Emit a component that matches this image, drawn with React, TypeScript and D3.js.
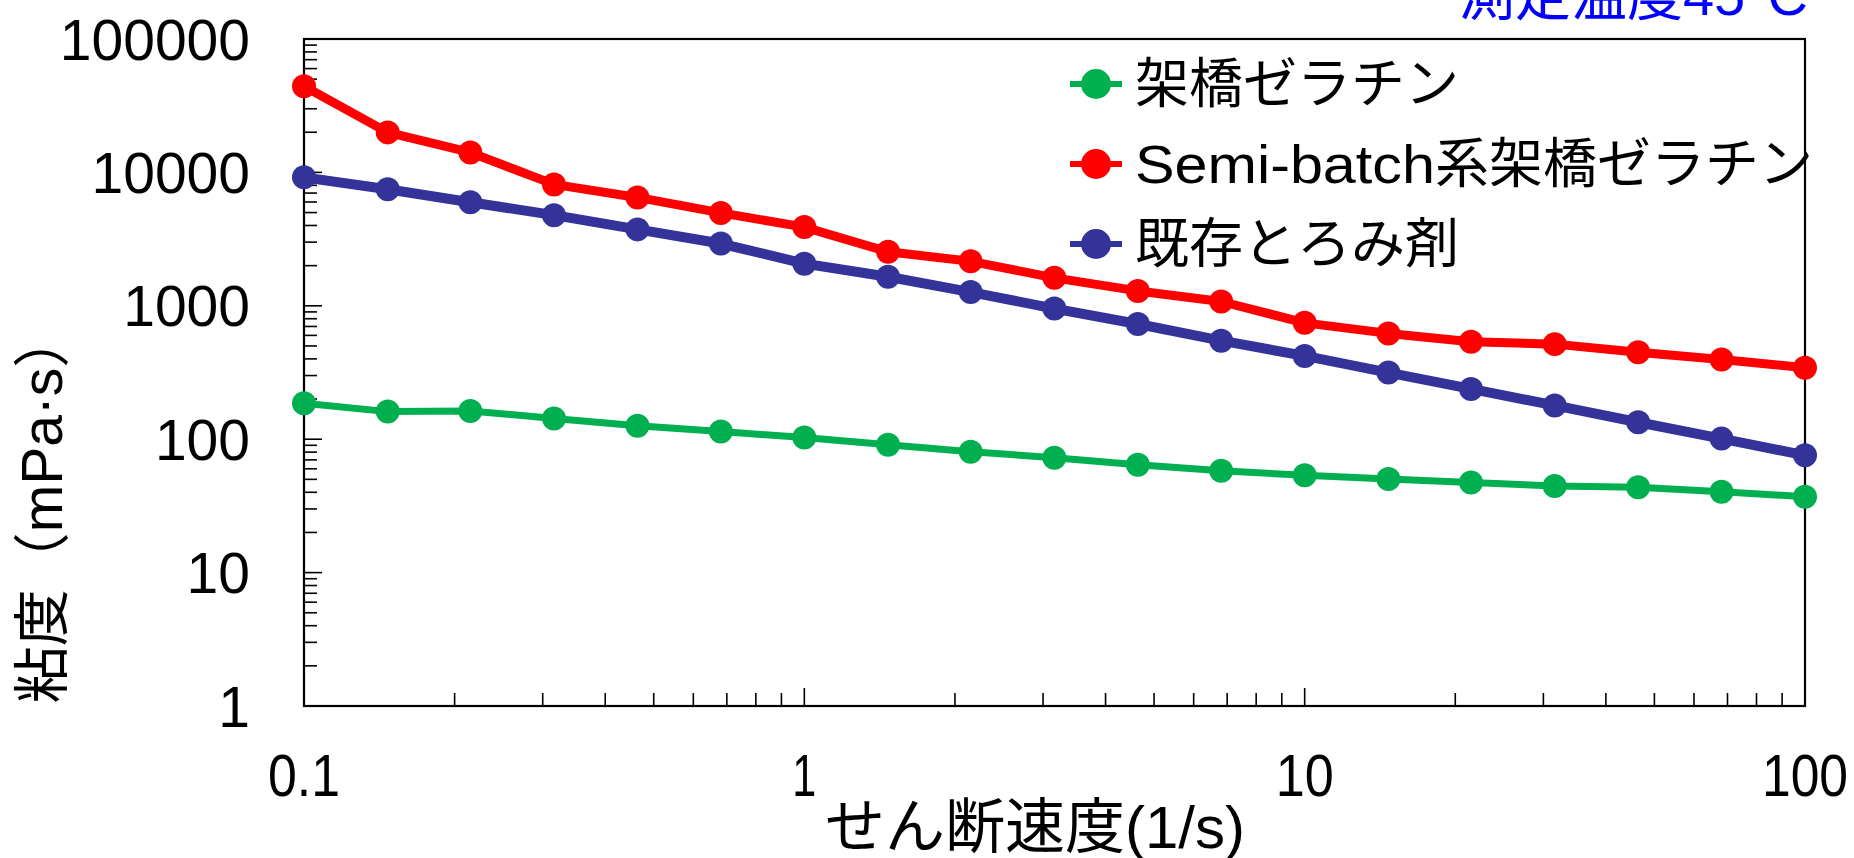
import * as d3 from "d3";

const shearRates = [
  0.1, 0.147, 0.215, 0.316, 0.464, 0.681, 1, 1.47, 2.15, 3.16, 4.64, 6.81, 10,
  14.7, 21.5, 31.6, 46.4, 68.1, 100,
];

const gelatin = [
  186, 161, 163, 143, 126, 114, 103, 91, 80.5, 72.7, 64.4, 58.1, 53.6, 50.4,
  47.4, 44.6, 43.6, 40.3, 37.1,
];
const semiBatch = [
  44200, 19950, 14100, 8130, 6490, 4970, 3890, 2540, 2155, 1620, 1293, 1077,
  745, 621, 537, 516, 448, 396, 343,
];
const existing = [
  9180, 7480, 5980, 4780, 3740, 2930, 2070, 1650, 1268, 953, 730, 548, 421,
  316, 238, 179, 134, 101, 75.7,
];

// legend names split into a latin part and a japanese part
const seriesLatin = ["", "Semi-batch", ""];
const seriesNames = ["架橋ゼラチン", "系架橋ゼラチン", "既存とろみ剤"];
const seriesColors = ["#00B050", "#FF0000", "#333399"];
const seriesWidths = [7, 9, 10];

const yTicks = [1, 10, 100, 1000, 10000, 100000];
const xTicks = [0.1, 1, 10, 100];

const FONT = "'Liberation Sans', Arial, 'Noto Sans CJK JP', sans-serif";

export default function App() {
  const width = 1854;
  const height = 858;
  const left = 304;
  const right = 1805;
  const top = 39;
  const bottom = 706;

  const x = d3.scaleLog().domain([0.1, 100]).range([left, right]);
  const y = d3.scaleLog().domain([1, 100000]).range([bottom, top]);

  const series = [gelatin, semiBatch, existing].map((vals, i) => ({
    latin: seriesLatin[i],
    name: seriesNames[i],
    color: seriesColors[i],
    strokeWidth: seriesWidths[i],
    points: vals.map((v, j) => ({ x: shearRates[j], y: v })),
  }));

  const line = d3
    .line<{ x: number; y: number }>()
    .x((d) => x(d.x))
    .y((d) => y(d.y));

  // minor ticks 2..9 in each decade
  const yMinor: number[] = [];
  for (let e = 0; e < 5; e++)
    for (let k = 2; k < 10; k++) yMinor.push(k * Math.pow(10, e));
  const xMinor: number[] = [];
  for (let e = -1; e < 2; e++)
    for (let k = 2; k < 10; k++) xMinor.push(k * Math.pow(10, e));

  // order of drawing: green, blue, red
  const drawOrder = [0, 2, 1];

  return (
    <svg
      width={width}
      height={height}
      style={{ position: "absolute", left: 0, top: 0, background: "#fff" }}
      fontFamily={FONT}
    >
      <rect width={width} height={height} fill="#fff" />
      {/* title, cut at top like the original */}
      <text x={1808} y={15} textAnchor="end" fontSize={56} fill="#0000FF">
        測定温度45°C
      </text>

      {/* ticks */}
      <g stroke="#000" strokeWidth={1.6}>
        {yTicks.map((t) => (
          <line key={"ym" + t} x1={left} x2={left + 18} y1={y(t)} y2={y(t)} />
        ))}
        {yMinor.map((t) => (
          <line key={"yn" + t} x1={left} x2={left + 13} y1={y(t)} y2={y(t)} />
        ))}
        {xTicks.map((t) => (
          <line key={"xm" + t} x1={x(t)} x2={x(t)} y1={bottom} y2={bottom - 18} />
        ))}
        {xMinor.map((t) => (
          <line key={"xn" + t} x1={x(t)} x2={x(t)} y1={bottom} y2={bottom - 13} />
        ))}
      </g>

      {/* frame */}
      <rect
        x={left}
        y={top}
        width={right - left}
        height={bottom - top}
        fill="none"
        stroke="#000"
        strokeWidth={2.2}
      />

      {/* y tick labels */}
      {yTicks.map((t) => (
        <text
          key={"yl" + t}
          x={250}
          y={y(t)}
          dy="0.36em"
          textAnchor="end"
          fontSize={57}
          fill="#000"
        >
          {t}
        </text>
      ))}

      {/* x tick labels */}
      {xTicks.map((t) => (
        <text
          key={"xl" + t}
          x={x(t)}
          y={796}
          textAnchor="middle"
          fontSize={60}
          fill="#000"
          textLength={t === 0.1 ? 72 : t === 1 ? 24 : t === 10 ? 58 : 86}
          lengthAdjust="spacingAndGlyphs"
        >
          {t}
        </text>
      ))}

      {/* axis titles */}
      <text x={1035} y={848} textAnchor="middle" fontSize={60} fill="#000">
        せん断速度(1/s)
      </text>
      <text
        transform={`translate(41, 507) rotate(-90)`}
        textAnchor="middle"
        dy="0.36em"
        fontSize={57}
        fill="#000"
      >
        粘度（mPa·s）
      </text>

      {/* series */}
      {drawOrder.map((i) => {
        const s = series[i];
        return (
          <g key={s.name}>
            <path
              d={line(s.points) ?? ""}
              fill="none"
              stroke={s.color}
              strokeWidth={s.strokeWidth}
              strokeLinejoin="round"
            />
            {s.points.map((p, j) => (
              <circle key={j} cx={x(p.x)} cy={y(p.y)} r={12} fill={s.color} />
            ))}
          </g>
        );
      })}

      {/* legend */}
      {series.map((s, i) => {
        const ly = 84 + i * 80;
        return (
          <g key={"lg" + i}>
            <line
              x1={1070}
              x2={1122}
              y1={ly}
              y2={ly}
              stroke={s.color}
              strokeWidth={6}
            />
            <circle cx={1096} cy={ly} r={15} fill={s.color} />
            <text x={1135} y={ly} dy="0.36em" fontSize={54} fill="#000">
              {s.latin && (
                <tspan textLength={300} lengthAdjust="spacingAndGlyphs">
                  {s.latin}
                </tspan>
              )}
              <tspan>{s.name}</tspan>
            </text>
          </g>
        );
      })}
    </svg>
  );
}
